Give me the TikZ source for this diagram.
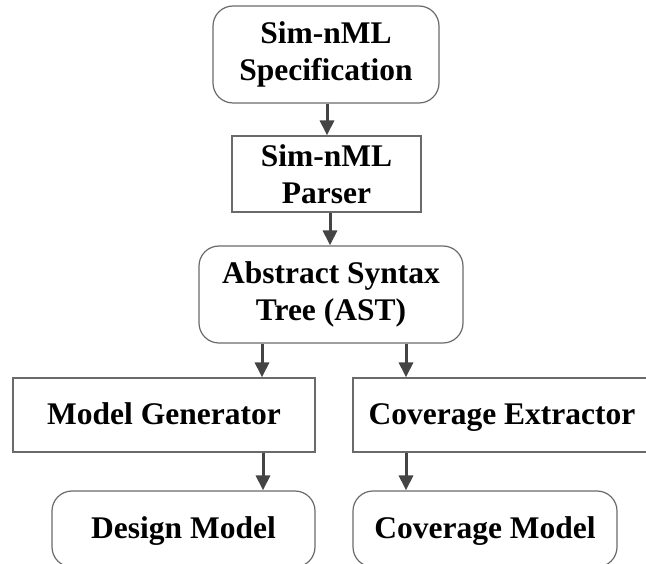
\documentclass[tikz,border=0pt]{standalone}
\usepackage{fontspec}
\setmainfont{Liberation Serif}
\usetikzlibrary{arrows.meta}
\definecolor{boxline}{HTML}{6A6A6A}
\definecolor{arrowcol}{HTML}{444444}
\tikzset{
  block/.style={draw=boxline, line width=1.2pt, fill=white,
    inner sep=0pt, font=\fontsize{31.5}{37}\selectfont\bfseries},
  twoline/.style={align=center},
  oneline/.style={text height=26pt, text depth=7pt},
  roundblock/.style={block, rounded corners=20pt},
  flow/.style={draw=arrowcol, line width=3pt,
    -{Triangle[length=15pt,width=14pt]}}
}
\begin{document}
\begin{tikzpicture}[x=1pt,y=-1pt]
  \useasboundingbox (0,0) rectangle (646,564);
  \clip (0,0) rectangle (646,564);
  % Upper chain
  \node[roundblock, twoline, minimum width=226pt, minimum height=97pt] (spec) at (326,54.5) {Sim-nML\\Specification};
  \node[block, twoline, minimum width=189pt, minimum height=76pt] (parser) at (326.5,174) {Sim-nML\\Parser};
  \node[roundblock, twoline, minimum width=264pt, minimum height=97pt] (ast) at (331,294.5) {Abstract Syntax\\Tree (AST)};
  % Two branches
  \node[block, oneline, minimum width=302pt, minimum height=74pt] (gen) at (164,415) {Model Generator};
  \node[block, oneline, minimum width=298pt, minimum height=74pt] (ext) at (502,415) {Coverage Extractor};
  \node[roundblock, oneline, minimum width=263pt, minimum height=76pt] (design) at (183.5,529) {Design Model};
  \node[roundblock, oneline, minimum width=264pt, minimum height=76pt] (cover) at (485,529) {Coverage Model};
  % Connectors
  \draw[flow] (spec.south -| 327,0) -- (parser.north -| 327,0);
  \draw[flow] (parser.south -| 330,0) -- (ast.north -| 330,0);
  \draw[flow] (ast.south -| 262,0) -- (gen.north -| 262,0);
  \draw[flow] (ast.south -| 406,0) -- (ext.north -| 406,0);
  \draw[flow] (gen.south -| 263,0) -- (design.north -| 263,0);
  \draw[flow] (ext.south -| 406,0) -- (cover.north -| 406,0);
\end{tikzpicture}
\end{document}
